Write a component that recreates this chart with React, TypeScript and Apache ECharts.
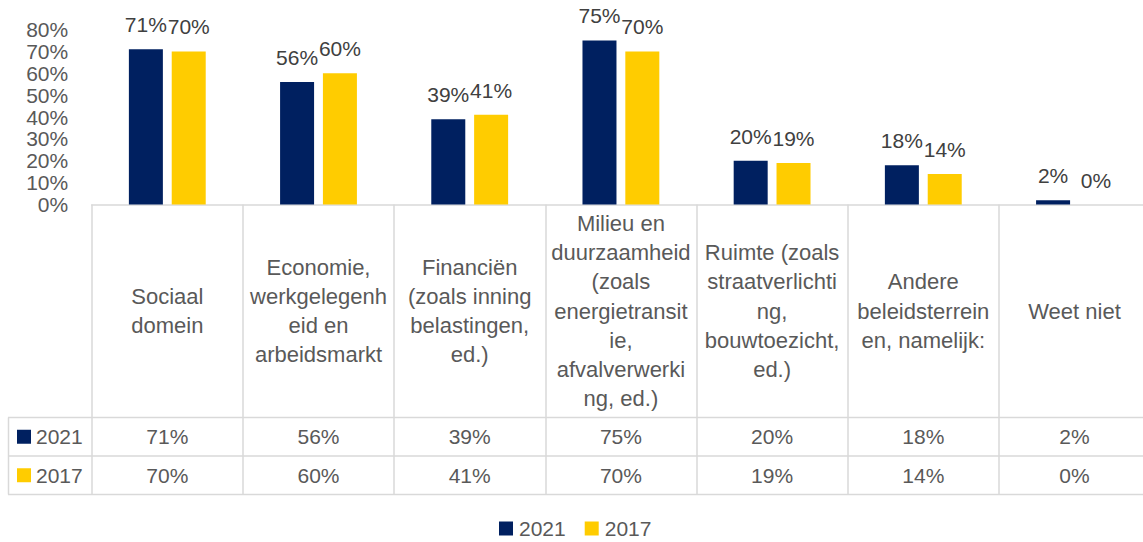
import React, { useEffect, useRef } from "react";
import * as echarts from "echarts";

const categories = [
  "Sociaal\ndomein",
  "Economie,\nwerkgelegenh\neid en\narbeidsmarkt",
  "Financiën\n(zoals inning\nbelastingen,\ned.)",
  "Milieu en\nduurzaamheid\n(zoals\nenergietransit\nie,\nafvalverwerki\nng, ed.)",
  "Ruimte (zoals\nstraatverlichti\nng,\nbouwtoezicht,\ned.)",
  "Andere\nbeleidsterrein\nen, namelijk:",
  "Weet niet",
];
const seriesNames = ["2021", "2017"];
const values2021 = [71, 56, 39, 75, 20, 18, 2];
const values2017 = [70, 60, 41, 70, 19, 14, 0];
const yMax = 80;
const yInterval = 10;

const COLORS = ["#002060", "#FFCC00"];
const FONT = "Liberation Sans";
const FS = 21;
const CAT_FS = 22;
const TXT = "#595959";
const GRID_LINE = "#D9D9D9";

export default function App() {
  const ref = useRef<HTMLDivElement>(null);
  useEffect(() => {
    if (!ref.current) return;
    const chart = echarts.init(ref.current, undefined, { renderer: "svg" });
    const gridLeft = 91.7;
    const colW = 151.2;
    const gridW = colW * categories.length;
    const axisY = 204.5;
    const row1Top = 417.5;
    const row2Top = 456;
    const row2Bot = 494.5;
    const tableRight = gridLeft + gridW;
    const valueAxis = (vals: number[], margin: number) => ({
      type: "category",
      gridIndex: 0,
      position: "bottom",
      data: vals.map((v) => v + "%"),
      axisLine: { show: false },
      axisTick: { show: false },
      axisLabel: {
        interval: 0,
        margin,
        verticalAlign: "middle",
        fontFamily: FONT,
        fontSize: FS,
        color: TXT,
      },
    });
    const dataLabel = {
      show: true,
      position: "top",
      distance: 14,
      formatter: "{c}%",
      fontFamily: FONT,
      fontSize: FS,
      color: "#404040",
    };
    chart.setOption({
      animation: false,
      backgroundColor: "#ffffff",
      textStyle: { fontFamily: FONT },
      grid: { left: gridLeft, top: 29.5, width: gridW, height: axisY - 29.5, containLabel: false },
      xAxis: [
        {
          type: "category",
          data: categories,
          axisLine: { show: true, lineStyle: { color: GRID_LINE, width: 1.5 } },
          axisTick: {
            show: true,
            interval: 0,
            alignWithLabel: false,
            length: row2Bot - axisY,
            lineStyle: { color: GRID_LINE, width: 1.5 },
          },
          axisLabel: {
            interval: 0,
            margin: 311 - axisY,
            verticalAlign: "middle",
            lineHeight: 29.3,
            fontFamily: FONT,
            fontSize: CAT_FS,
            color: TXT,
            align: "center",
          },
        },
        valueAxis(values2021, (row1Top + row2Top) / 2 - axisY),
        valueAxis(values2017, (row2Top + row2Bot) / 2 - axisY),
      ],
      yAxis: {
        type: "value",
        min: 0,
        max: yMax,
        interval: yInterval,
        axisLine: { show: false },
        axisTick: { show: false },
        splitLine: { show: false },
        axisLabel: {
          formatter: "{value}%",
          margin: 23.5,
          fontFamily: FONT,
          fontSize: FS,
          color: TXT,
        },
      },
      legend: {
        data: seriesNames,
        left: 499,
        top: 518,
        padding: 0,
        icon: "rect",
        itemWidth: 14,
        itemHeight: 14,
        itemGap: 19,
        textStyle: { fontFamily: FONT, fontSize: FS, color: TXT, padding: [0, 0, 0, 1] },
      },
      series: [
        {
          name: seriesNames[0],
          type: "bar",
          data: values2021,
          barWidth: 34,
          barGap: "26%",
          itemStyle: { color: COLORS[0] },
          label: dataLabel,
        },
        {
          name: seriesNames[1],
          type: "bar",
          data: values2017,
          barWidth: 34,
          barGap: "26%",
          itemStyle: { color: COLORS[1] },
          label: dataLabel,
        },
      ],
      graphic: [
        ...[row1Top, row2Top, row2Bot].map((y) => ({
          type: "line",
          shape: { x1: 8, y1: y, x2: tableRight, y2: y },
          style: { stroke: GRID_LINE, lineWidth: 1.5 },
          silent: true,
        })),
        {
          type: "line",
          shape: { x1: 8.5, y1: row1Top, x2: 8.5, y2: row2Bot },
          style: { stroke: GRID_LINE, lineWidth: 1.5 },
          silent: true,
        },
        ...seriesNames.flatMap((name, i) => {
          const cy = i === 0 ? (row1Top + row2Top) / 2 : (row2Top + row2Bot) / 2;
          return [
            {
              type: "rect",
              shape: { x: 17, y: cy - 7, width: 14, height: 14 },
              style: { fill: COLORS[i] },
              silent: true,
            },
            {
              type: "text",
              x: 36,
              y: cy,
              style: {
                text: name,
                fontFamily: FONT,
                fontSize: FS,
                fill: TXT,
                verticalAlign: "middle",
              },
              silent: true,
            },
          ];
        }),
      ],
    });
    return () => chart.dispose();
  }, []);
  return (
    <div
      style={{
        position: "fixed",
        left: 0,
        top: 0,
        width: 1143,
        height: 542,
        overflow: "hidden",
        background: "#fff",
      }}
    >
      <div ref={ref} style={{ width: 1160, height: 542 }} />
    </div>
  );
}
